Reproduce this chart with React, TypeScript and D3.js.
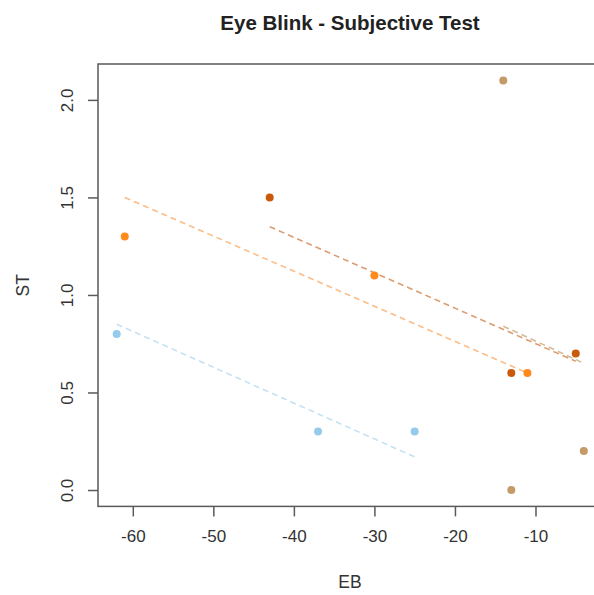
import { useEffect, useRef } from 'react'
import * as d3 from 'd3'

// series (EB on x, ST on y)
const ebOrange = [-61, -30, -11]
const stOrange = [1.3, 1.1, 0.6]
const ebDark = [-43, -13, -5]
const stDark = [1.5, 0.6, 0.7]
const ebTan = [-14, -13, -4]
const stTan = [2.1, 0.0, 0.2]
const ebBlue = [-62, -37, -25]
const stBlue = [0.8, 0.3, 0.3]

// dashed trend lines: [start, end]
const trendOrangeX = [-61, -11]
const trendOrangeY = [1.5, 0.6]
const trendDarkX = [-43, -5]
const trendDarkY = [1.35, 0.66]
const trendTanX = [-14, -4]
const trendTanY = [0.84, 0.65]
const trendBlueX = [-62, -25]
const trendBlueY = [0.85, 0.17]

const xTicks = [-60, -50, -40, -30, -20, -10]
const yTicks = [0, 0.5, 1, 1.5, 2]

const series = [
  { xs: ebOrange, ys: stOrange, tx: trendOrangeX, ty: trendOrangeY, color: '#ff8a1c', line: '#fbbd88' },
  { xs: ebDark, ys: stDark, tx: trendDarkX, ty: trendDarkY, color: '#c95a0c', line: '#dc9c70' },
  { xs: ebTan, ys: stTan, tx: trendTanX, ty: trendTanY, color: '#c39a68', line: '#d4bc98' },
  { xs: ebBlue, ys: stBlue, tx: trendBlueX, ty: trendBlueY, color: '#95cbea', line: '#c4e2f4' },
]

const W = 594, H = 595
const L = 98, R = 602.5, T = 64, B = 506.4

export default function App() {
  const ref = useRef<SVGSVGElement>(null)

  useEffect(() => {
    if (!ref.current) return
    const svg = d3.select(ref.current)
    svg.selectAll('*').remove()

    const x = d3.scaleLinear().domain([-64.32, -1.68]).range([L, R])
    const y = d3.scaleLinear().domain([-0.084, 2.184]).range([B, T])
    const font = 'Liberation Sans, Arial, Helvetica, sans-serif'
    const axisColor = '#5a5a5a'

    // trend lines
    series.forEach(s => {
      const pts = s.tx.map((v, i) => [v, s.ty[i]] as [number, number])
      svg.append('path')
        .attr('d', d3.line<[number, number]>().x(d => x(d[0])).y(d => y(d[1]))(pts))
        .attr('fill', 'none').attr('stroke', s.line).attr('stroke-width', 1.6)
        .attr('stroke-dasharray', '6,4')
    })

    // points
    series.forEach(s => {
      svg.append('g').selectAll('circle').data(s.xs).join('circle')
        .attr('cx', d => x(d)).attr('cy', (_, i) => y(s.ys[i])).attr('r', 4)
        .attr('fill', s.color)
    })

    // box
    svg.append('rect').attr('x', L).attr('y', T).attr('width', R - L).attr('height', B - T)
      .attr('fill', 'none').attr('stroke', axisColor).attr('stroke-width', 1.5)

    // x axis (R uses a plain hyphen for minus)
    const gx = svg.append('g').attr('transform', `translate(0,${B})`)
      .call(d3.axisBottom(x).tickValues(xTicks).tickSize(10).tickPadding(14).tickFormat(d => String(d)))
    gx.select('.domain').remove()
    gx.selectAll('line').attr('stroke', axisColor).attr('stroke-width', 1.5)
    gx.selectAll('text').attr('fill', '#333').attr('font-size', 17).attr('font-family', font)

    // y axis (rotated labels like R)
    const gy = svg.append('g').attr('transform', `translate(${L},0)`)
      .call(d3.axisLeft(y).tickValues(yTicks).tickSize(10).tickFormat(d3.format('.1f')))
    gy.select('.domain').remove()
    gy.selectAll('line').attr('stroke', axisColor).attr('stroke-width', 1.5)
    gy.selectAll('text')
      .attr('x', null).attr('dy', null)
      .attr('text-anchor', 'middle')
      .attr('transform', 'translate(-31,0) rotate(-90)')
      .attr('dy', '0.35em')
      .attr('fill', '#333').attr('font-size', 17).attr('font-family', font)

    svg.append('text').attr('x', 350).attr('y', 30).attr('text-anchor', 'middle')
      .attr('font-family', font).attr('font-weight', 'bold').attr('font-size', 20.5).attr('fill', '#222')
      .text('Eye Blink - Subjective Test')

    svg.append('text').attr('x', 350).attr('y', 588).attr('text-anchor', 'middle')
      .attr('font-family', font).attr('font-size', 17.5).attr('fill', '#333').text('EB')

    svg.append('text').attr('transform', `translate(29,${(T + B) / 2}) rotate(-90)`)
      .attr('text-anchor', 'middle')
      .attr('font-family', font).attr('font-size', 17.5).attr('fill', '#333').text('ST')
  }, [])

  return (
    <div style={{ position: 'absolute', left: 0, top: 0 }}>
      <svg ref={ref} width={W} height={H} style={{ display: 'block', background: '#fff' }} />
    </div>
  )
}
